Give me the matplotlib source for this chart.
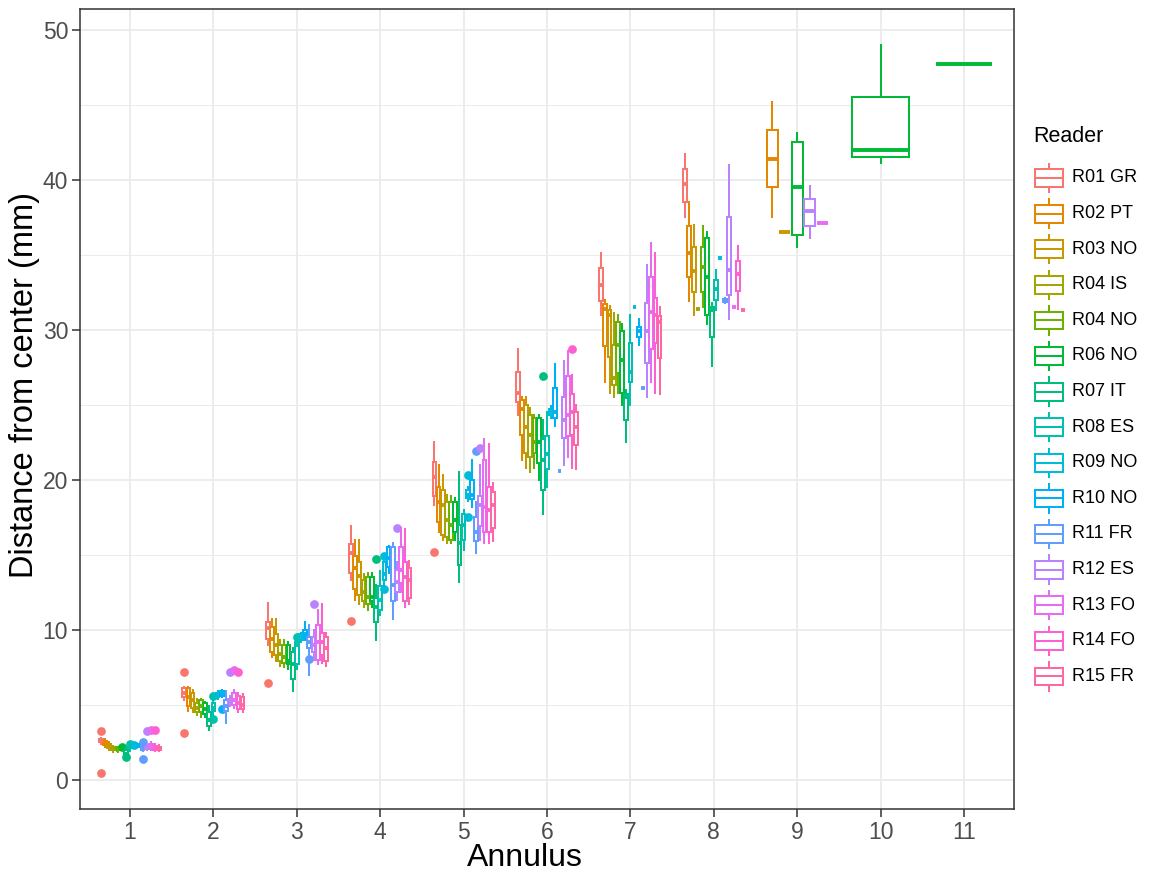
import matplotlib
matplotlib.use("Agg")
import matplotlib.pyplot as plt
from matplotlib.patches import Rectangle

plt.rcParams['font.family'] = ['Liberation Sans', 'DejaVu Sans']

readers = ["R01 GR", "R02 PT", "R03 NO", "R04 IS", "R04 NO", "R06 NO", "R07 IT",
           "R08 ES", "R09 NO", "R10 NO", "R11 FR", "R12 ES", "R13 FO", "R14 FO", "R15 FR"]
colors = ["#F8766D", "#E58700", "#C99800", "#A3A500", "#6BB100", "#00BA38", "#00BF7D",
          "#00C0AF", "#00BCD8", "#00B0F6", "#619CFF", "#B983FF", "#E76BF3", "#FD61D1", "#FF67A4"]
annuli = [1, 2, 3, 4, 5, 6, 7, 8, 9, 10, 11]

# (lower whisker, Q1, median, Q3, upper whisker) per reader; None = no reading
ann1 = [(2.4, 2.5, 2.6, 2.7, 2.8), (2.2, 2.3, 2.45, 2.6, 2.7), (2.0, 2.1, 2.25, 2.4, 2.5),
        (1.85, 1.95, 2.05, 2.15, 2.25), (1.85, 1.95, 2.0, 2.15, 2.2), (2.0, 2.05, 2.1, 2.2, 2.25),
        (1.45, 1.55, 1.7, 2.0, 2.2), (1.9, 2.1, 2.25, 2.35, 2.4), (2.1, 2.2, 2.25, 2.3, 2.4),
        (2.15, 2.2, 2.3, 2.35, 2.4), (1.9, 2.0, 2.1, 2.25, 2.4), (1.95, 2.05, 2.1, 2.2, 2.3),
        (2.0, 2.1, 2.2, 2.4, 2.5), (1.9, 2.0, 2.1, 2.25, 2.35), (1.9, 2.0, 2.1, 2.2, 2.3)]
ann2 = [(5.3, 5.5, 5.8, 6.1, 6.2), (4.6, 4.9, 5.5, 6.1, 6.2), (4.5, 4.8, 5.3, 5.8, 6.0),
        (4.3, 4.5, 4.8, 5.1, 5.4), (4.2, 4.5, 4.9, 5.3, 5.4), (4.2, 4.4, 4.7, 5.1, 5.2),
        (3.3, 3.6, 4.0, 4.5, 4.9), (4.3, 4.6, 4.8, 5.1, 5.3), (5.4, 5.5, 5.6, 5.8, 5.9),
        (5.5, 5.6, 5.75, 5.9, 6.0), (3.8, 4.6, 4.9, 5.3, 5.9), (4.9, 5.0, 5.2, 5.4, 5.6),
        (4.8, 5.0, 5.3, 5.8, 6.0), (4.5, 4.7, 5.1, 5.6, 5.8), (4.5, 4.7, 5.0, 5.5, 5.7)]
ann3 = [(9.0, 9.4, 10.1, 10.5, 11.8), (8.2, 8.5, 9.4, 10.2, 10.7), (7.9, 8.3, 9.0, 9.7, 10.7),
        (7.6, 7.9, 8.4, 9.0, 9.3), (7.5, 7.8, 8.2, 9.0, 9.3), (7.4, 7.7, 7.9, 9.0, 9.2),
        (5.9, 6.7, 7.7, 8.5, 8.8), (7.4, 7.7, 9.0, 9.2, 9.5), (9.2, 9.3, 9.5, 9.7, 9.8),
        (9.3, 9.5, 9.7, 10.0, 10.5), (7.0, 8.8, 9.2, 9.5, 10.3), (8.0, 8.5, 9.0, 9.5, 10.0),
        (7.7, 8.0, 9.2, 10.3, 11.3), (7.8, 8.3, 9.2, 9.8, 11.7), (7.6, 7.9, 8.8, 9.5, 9.8)]
ann4 = [(13.3, 13.8, 15.1, 15.7, 16.9), (12.0, 12.7, 14.1, 14.9, 16.0), (11.7, 12.3, 13.6, 14.5, 16.0),
        (11.5, 11.9, 12.5, 13.3, 13.7), (11.3, 11.7, 12.2, 13.5, 13.8), (11.5, 11.9, 12.2, 13.5, 13.8),
        (9.3, 10.5, 11.5, 12.1, 13.0), (11.0, 11.3, 12.0, 12.9, 13.9), (13.0, 13.3, 13.7, 14.5, 14.8),
        (13.8, 14.2, 14.8, 15.5, 15.6), (10.7, 11.9, 13.0, 15.5, 15.8), (12.0, 12.5, 13.2, 14.0, 14.5),
        (12.5, 13.1, 14.0, 15.5, 16.8), (11.5, 11.9, 13.5, 14.5, 16.7), (11.7, 12.1, 13.3, 14.1, 14.6)]
ann5 = [(18.3, 18.9, 20.2, 21.2, 22.5), (16.5, 17.2, 18.5, 19.5, 21.0), (16.0, 16.3, 18.3, 19.3, 20.3),
        (15.8, 16.2, 17.3, 18.5, 19.0), (15.8, 16.0, 17.0, 18.5, 18.9), (16.0, 16.5, 17.3, 18.5, 18.8),
        (13.2, 14.3, 15.8, 17.0, 20.5), (15.3, 16.0, 17.0, 17.7, 18.0), (18.6, 18.8, 19.0, 19.3, 19.5),
        (18.2, 18.7, 19.0, 20.0, 21.3), (15.1, 15.9, 16.5, 17.5, 18.5), (16.0, 16.9, 18.3, 18.9, 21.0),
        (15.8, 16.5, 18.2, 21.3, 22.7), (15.8, 16.5, 18.0, 19.5, 22.4), (15.9, 16.8, 18.3, 19.2, 19.8)]
ann6 = [(24.3, 25.2, 25.8, 27.2, 28.7), (21.3, 23.0, 24.7, 25.3, 25.5), (20.8, 21.8, 23.5, 25.0, 25.5),
        (20.5, 21.5, 23.0, 24.3, 24.8), (20.8, 21.8, 22.5, 24.1, 24.3), (20.0, 21.1, 22.5, 24.1, 24.3),
        (17.7, 19.3, 21.3, 22.7, 24.0), (19.5, 20.7, 21.7, 22.9, 24.5), (24.1, 24.3, 24.5, 24.7, 24.9),
        (23.6, 24.1, 24.5, 26.1, 27.7), (20.6, 20.6, 20.6, 20.6, 20.6), (21.0, 22.8, 24.0, 25.5, 27.9),
        (21.5, 22.9, 24.3, 26.9, 28.6), (20.8, 23.0, 24.5, 25.7, 27.0), (20.7, 22.3, 23.5, 24.5, 25.0)]
ann7 = [(31.0, 31.9, 33.0, 34.1, 35.1), (26.5, 28.9, 31.4, 31.7, 32.0), (25.8, 28.2, 31.0, 31.3, 31.6),
        (25.5, 26.3, 26.8, 29.0, 31.1), (25.8, 27.1, 29.0, 30.5, 31.0), (25.0, 25.8, 28.0, 29.9, 30.4),
        (22.5, 24.0, 25.5, 25.7, 26.0), (25.0, 26.5, 27.2, 29.1, 31.0), (31.5, 31.5, 31.5, 31.5, 31.5),
        (29.0, 29.5, 29.9, 30.2, 30.7), (26.1, 26.1, 26.1, 26.1, 26.1), (25.5, 27.8, 29.9, 31.8, 34.3),
        (26.5, 28.7, 31.2, 33.5, 35.8), (25.8, 29.1, 31.0, 32.1, 35.1), (25.7, 28.1, 30.5, 30.9, 31.5)]
ann8 = [(37.5, 38.5, 39.7, 40.7, 41.7), (31.9, 33.5, 35.1, 36.9, 38.5), (31.0, 32.5, 33.9, 35.5, 37.0),
        (31.4, 31.4, 31.4, 31.4, 31.4), (31.5, 32.5, 34.2, 35.5, 36.9), (30.4, 31.0, 33.5, 36.1, 36.5),
        (27.6, 29.5, 31.3, 31.5, 31.8), (31.3, 32.0, 32.7, 33.3, 34.0), (34.8, 34.8, 34.8, 34.8, 34.8),
        None, (31.8, 31.85, 31.95, 32.05, 32.1), (30.7, 32.3, 34.0, 37.5, 41.0),
        (31.5, 31.5, 31.5, 31.5, 31.5), (31.4, 32.6, 33.7, 34.6, 35.6), (31.3, 31.3, 31.3, 31.3, 31.3)]
ann9 = [None, (37.5, 39.5, 41.4, 43.3, 45.2), (36.5, 36.5, 36.5, 36.5, 36.5), None, None,
        (35.5, 36.3, 39.5, 42.5, 43.1), None, None, None, None, None,
        (36.1, 36.9, 37.9, 38.7, 39.6), (37.1, 37.1, 37.1, 37.1, 37.1), None, None]
ann10 = [None, None, None, None, None, (41.1, 41.5, 42.0, 45.5, 49.0),
         None, None, None, None, None, None, None, None, None]
ann11 = [None, None, None, None, None, (47.7, 47.7, 47.7, 47.7, 47.7),
         None, None, None, None, None, None, None, None, None]

# outliers: reader index -> values
out1 = {0: [3.27, 0.47], 5: [2.2], 6: [1.5], 7: [2.35], 8: [2.3], 10: [2.5, 1.4],
        11: [3.27], 12: [3.3], 13: [3.3]}
out2 = {0: [7.2, 3.1], 7: [5.55, 4.05], 9: [4.7], 11: [7.2], 12: [7.3], 13: [7.2]}
out3 = {0: [6.47], 7: [9.5], 10: [8.07], 11: [11.7]}
out4 = {0: [10.6], 6: [14.7], 8: [14.9, 12.7], 11: [16.8]}
out5 = {0: [15.2], 8: [20.3, 17.5], 10: [21.9], 11: [22.1]}
out6 = {6: [26.9], 13: [28.7]}
out7 = {}
out8 = {}
out9 = {}
out10 = {}
out11 = {}

boxes = [ann1, ann2, ann3, ann4, ann5, ann6, ann7, ann8, ann9, ann10, ann11]
outs = [out1, out2, out3, out4, out5, out6, out7, out8, out9, out10, out11]

W, H = 1165, 875
fig = plt.figure(figsize=(W / 100, H / 100), dpi=100)
px_l, px_r, px_t, px_b = 80, 1014, 8.5, 809
ax = fig.add_axes([px_l / W, (H - px_b) / H, (px_r - px_l) / W, (px_b - px_t) / H])

LW = 1.45
for ann, stats, outl in zip(annuli, boxes, outs):
    present = [i for i, s in enumerate(stats) if s is not None]
    n = len(present)
    slot = 0.75 / n
    for j, i in enumerate(present):
        lo, q1, med, q3, hi = stats[i]
        x = ann - 0.375 + slot * (j + 0.5)
        c = colors[i]
        st = dict(whislo=lo, q1=q1, med=med, q3=q3, whishi=hi, fliers=outl.get(i, []))
        ax.bxp([st], positions=[x], widths=[slot * 0.9], showcaps=False, patch_artist=True,
               boxprops=dict(facecolor='white', edgecolor=c, linewidth=LW),
               whiskerprops=dict(color=c, linewidth=LW),
               medianprops=dict(color=c, linewidth=2.8, solid_capstyle='butt'),
               flierprops=dict(marker='o', markerfacecolor=c, markeredgecolor='none',
                               markersize=6.3),
               manage_ticks=False)

ax.set_xlim(0.4, 11.6)
ax.set_ylim(-1.96, 51.43)
ax.set_xticks(annuli)
ax.set_xticklabels([str(a) for a in annuli])
ax.set_yticks([0, 10, 20, 30, 40, 50])
ax.set_yticks([5, 15, 25, 35, 45], minor=True)
ax.set_axisbelow(True)
ax.grid(which='major', color='#EBEBEB', linewidth=1.3)
ax.grid(which='minor', axis='y', color='#EBEBEB', linewidth=0.7)
ax.tick_params(which='major', labelsize=16.5, labelcolor='#4D4D4D', color='#333333',
               length=5.5, width=1.1, pad=3)
ax.tick_params(which='minor', length=0)
for s in ax.spines.values():
    s.set_color('#333333')
    s.set_linewidth(1.1)

# axis titles placed where they sit in the reference
fig.text(524.5 / W, 1 - 858 / H, 'Annulus', fontsize=23, ha='center', va='center')
fig.text(25 / W, 1 - 385 / H, 'Distance from center (mm)', fontsize=23.5,
         ha='center', va='center', rotation=90)

# legend
lax = fig.add_axes([0, 0, 1, 1])
lax.set_xlim(0, W)
lax.set_ylim(H, 0)
lax.axis('off')
key = 35.6
kx = 1031
lax.text(kx + 2, 137, 'Reader', fontsize=15.5, va='center', ha='left')
for i, (r, c) in enumerate(zip(readers, colors)):
    yc = 178 + i * key
    xm = kx + key / 2
    lax.plot([xm, xm], [yc - 0.4 * key, yc - 0.25 * key], color=c, lw=LW)
    lax.plot([xm, xm], [yc + 0.25 * key, yc + 0.4 * key], color=c, lw=LW)
    lax.add_patch(Rectangle((kx + 0.1 * key, yc - 0.25 * key), 0.8 * key, 0.5 * key,
                            facecolor='white', edgecolor=c, lw=LW))
    lax.plot([kx + 0.1 * key, kx + 0.9 * key], [yc, yc], color=c, lw=LW)
    lax.text(kx + key + 5, yc, r, fontsize=13, va='center', ha='left', color='black')

fig.savefig('out.png', dpi=100)
